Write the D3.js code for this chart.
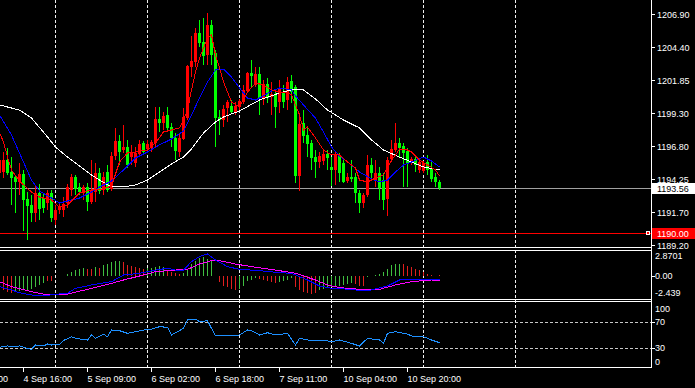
<!DOCTYPE html>
<html>
<head>
<meta charset="utf-8">
<script src="https://cdn.jsdelivr.net/npm/d3@7"></script>
<style>
html, body { margin: 0; padding: 0; background: #000; }
svg { display: block; }
text { font-family: "Liberation Sans", Arial, sans-serif; font-size: 9px; fill: #fff; }
path, line, rect { shape-rendering: crispEdges; }
</style>
</head>
<body>
<svg id="chart" width="695" height="388"></svg>
<script>
// H1 candles, oldest first
var opens = [1194.72,1194.80,1195.71,1194.80,1194.41,1194.03,1194.64,1192.73,1192.27,1191.65,
 1193.19,1192.80,1192.42,1193.19,1191.12,1191.88,1191.88,1192.42,1193.42,1194.41,
 1193.65,1193.19,1193.65,1192.50,1193.26,1194.72,1193.42,1194.80,1193.49,1196.02,
 1197.17,1196.48,1196.71,1195.94,1195.48,1196.17,1197.02,1196.56,1196.64,1197.02,
 1198.86,1198.55,1199.16,1198.24,1197.40,1196.33,1197.32,1198.93,1202.84,1203.22,
 1205.44,1204.75,1203.76,1206.06,1203.91,1199.01,1198.78,1199.70,1199.85,1199.39,
 1199.77,1200.16,1201.00,1202.38,1201.46,1202.30,1200.46,1201.54,1200.54,1200.77,
 1200.16,1200.92,1200.31,1201.77,1201.31,1194.49,1198.55,1197.63,1197.02,1195.94,
 1195.56,1195.64,1196.17,1195.18,1194.95,1196.10,1195.48,1194.10,1194.41,1194.41,
 1193.19,1192.42,1193.03,1195.33,1194.18,1194.72,1194.18,1192.73,1195.79,1196.48,
 1197.02,1196.79,1196.41,1195.48,1195.79,1194.95,1194.87,1195.56,1195.10,1194.41,
 1194.03];
var highs = [1196.10,1196.33,1196.64,1195.94,1194.57,1195.48,1194.95,1193.26,1193.03,1193.80,
 1193.87,1193.19,1193.42,1193.42,1192.27,1192.50,1192.88,1193.87,1194.64,1194.57,
 1193.95,1193.80,1193.95,1195.71,1195.48,1195.10,1194.80,1195.33,1196.33,1198.17,
 1197.63,1198.40,1197.25,1196.87,1196.71,1197.25,1197.17,1197.25,1197.25,1199.77,
 1199.77,1199.39,1199.77,1198.55,1197.78,1197.78,1199.70,1202.99,1205.21,1205.83,
 1206.44,1206.59,1206.97,1206.44,1204.14,1199.54,1199.93,1200.31,1200.31,1200.16,
 1200.39,1201.46,1202.45,1203.37,1202.84,1202.84,1201.84,1201.99,1201.69,1201.08,
 1201.84,1201.46,1202.07,1202.23,1201.46,1199.31,1199.54,1198.17,1197.25,1196.48,
 1196.33,1196.48,1196.48,1195.94,1196.33,1196.25,1195.71,1194.72,1195.71,1194.72,
 1193.42,1193.19,1196.10,1195.87,1195.71,1195.18,1194.72,1195.94,1197.25,1198.55,
 1197.40,1197.02,1196.64,1195.94,1195.94,1195.87,1195.64,1196.10,1195.71,1194.72,
 1194.18];
var lows = [1194.41,1194.33,1194.57,1192.27,1191.65,1193.03,1190.28,1189.59,1190.96,1190.96,
 1191.12,1191.65,1191.88,1190.96,1190.73,1191.57,1191.34,1192.04,1192.96,1193.03,
 1193.03,1192.65,1191.81,1192.34,1192.50,1193.11,1193.03,1193.26,1193.34,1195.71,
 1195.33,1196.25,1195.10,1195.33,1195.18,1195.94,1196.10,1196.25,1196.33,1196.71,
 1197.86,1198.01,1197.86,1196.71,1195.71,1195.94,1197.25,1198.78,1202.07,1202.84,
 1204.37,1202.99,1202.99,1202.99,1196.71,1197.63,1198.24,1198.63,1199.31,1199.16,
 1199.54,1200.00,1200.92,1201.31,1201.31,1199.16,1199.93,1200.08,1199.16,1198.17,
 1199.31,1199.70,1199.54,1200.08,1193.95,1193.34,1197.02,1195.94,1194.95,1194.33,
 1195.10,1195.33,1194.95,1193.72,1193.80,1194.03,1193.95,1193.95,1194.03,1192.42,
 1191.65,1192.04,1192.88,1194.33,1193.65,1192.65,1191.88,1191.42,1195.56,1196.33,
 1195.94,1193.65,1193.65,1195.33,1194.80,1194.72,1194.72,1194.57,1194.03,1193.65,
 1193.42];
var closes = [1195.71,1195.71,1194.72,1194.33,1194.03,1194.64,1192.65,1192.19,1191.65,1193.19,
 1191.96,1192.04,1193.19,1191.27,1191.88,1192.19,1192.34,1193.65,1194.41,1193.49,
 1193.26,1193.65,1192.50,1193.42,1194.72,1193.34,1194.41,1193.42,1196.02,1197.17,
 1196.33,1196.71,1195.33,1196.25,1196.25,1196.94,1196.33,1196.94,1197.10,1198.86,
 1198.55,1199.09,1198.17,1197.40,1196.41,1197.40,1199.01,1202.91,1203.30,1205.44,
 1204.68,1203.68,1206.06,1203.76,1198.93,1198.78,1199.62,1200.16,1199.39,1199.85,
 1200.23,1201.08,1202.38,1202.15,1202.30,1200.46,1201.54,1200.46,1200.77,1199.77,
 1201.23,1200.16,1201.69,1200.92,1194.49,1198.47,1197.55,1196.94,1195.87,1195.56,
 1196.02,1196.17,1195.87,1194.95,1196.10,1194.72,1194.03,1194.41,1194.26,1193.19,
 1192.42,1193.03,1195.33,1194.72,1194.72,1193.57,1192.65,1195.71,1196.56,1197.02,
 1196.64,1196.25,1195.48,1195.79,1195.33,1195.56,1195.48,1194.95,1194.26,1194.03,
 1193.56];

// moving averages: [bar, price]
var redMA = [[0,1197.78],[1,1197.10],[2,1195.94],[3,1194.95],[5,1194.10],[8,1193.26],[10,1192.88],[13,1192.65],[15,1192.11],[17,1192.27],[20,1193.19],[23,1193.42],[25,1193.42],[28,1193.72],[30,1195.56],[32,1196.25],[34,1196.33],[37,1196.48],[39,1197.02],[41,1197.86],[43,1198.01],[45,1198.17],[46,1198.78],[47,1199.54],[48,1201.08],[49,1202.45],[50,1203.53],[51,1204.29],[52,1205.06],[53,1205.29],[54,1203.76],[55,1202.76],[56,1201.69],[58,1200.16],[60,1199.77],[62,1200.92],[64,1201.61],[66,1201.46],[68,1201.08],[70,1200.92],[72,1200.92],[73,1200.69],[74,1199.93],[75,1199.16],[76,1198.01],[77,1198.24],[79,1197.40],[81,1196.48],[83,1196.10],[85,1196.10],[87,1195.56],[89,1195.10],[90,1194.18],[92,1194.03],[94,1194.33],[96,1194.57],[97,1195.10],[98,1195.71],[99,1196.10],[100,1196.56],[102,1196.48],[103,1196.33],[105,1195.71],[107,1195.33],[109,1194.95],[110,1194.49]];
var blueMA = [[0,1199.16],[3,1197.63],[5,1196.25],[8,1194.18],[10,1193.34],[13,1192.80],[15,1192.42],[18,1192.65],[20,1192.80],[23,1193.26],[25,1193.65],[28,1194.10],[31,1194.95],[34,1195.87],[37,1196.33],[40,1196.87],[43,1197.32],[46,1197.94],[48,1199.16],[50,1200.46],[52,1201.69],[54,1202.61],[56,1202.68],[58,1202.07],[60,1201.23],[62,1200.46],[64,1200.31],[66,1200.62],[68,1201.00],[70,1201.23],[73,1201.08],[74,1200.62],[76,1199.93],[79,1198.93],[81,1197.86],[83,1196.71],[85,1196.02],[88,1195.33],[90,1194.80],[93,1194.26],[95,1194.03],[97,1194.18],[99,1194.80],[101,1195.33],[103,1195.56],[106,1195.94],[108,1195.64],[110,1195.18]];
var whiteMA = [[0,1199.93],[5,1199.54],[8,1198.93],[12,1197.48],[14,1196.71],[17,1195.94],[20,1195.25],[23,1194.57],[25,1194.18],[28,1193.65],[31,1193.65],[34,1193.80],[37,1194.18],[40,1194.80],[43,1195.41],[46,1195.94],[48,1196.56],[51,1197.78],[54,1198.63],[56,1199.01],[60,1199.47],[65,1200.31],[70,1200.85],[74,1201.15],[76,1201.08],[79,1200.39],[82,1199.54],[86,1198.78],[90,1198.17],[93,1197.25],[96,1196.48],[100,1195.94],[103,1195.56],[106,1195.18],[110,1194.95]];

// MACD window
var macdHist = [-1.3,-1.5,-1.7,-1.8,-1.7,-1.6,-1.5,-1.45,-1.35,-1.15,
 -0.95,-0.7,-0.45,-0.45,0.05,0.05,0.1,0.3,0.5,0.65,
 0.85,0.95,0.85,0.85,1.0,0.95,1.2,1.35,1.55,1.7,
 1.65,1.55,1.2,1.1,1.0,0.95,0.85,0.95,0.95,1.0,
 1.1,1.0,0.65,0.45,0.4,0.3,0.35,0.7,1.35,1.7,
 2.0,2.1,1.9,1.7,0.1,-0.6,-1.0,-1.15,-1.35,-1.5,
 -1.35,-1.0,-0.5,-0.35,-0.15,-0.25,-0.35,-0.5,-0.6,-0.7,
 -0.6,-0.5,-0.35,-0.15,-1.15,-1.5,-1.7,-1.8,-1.9,-1.8,
 -1.5,-1.35,-1.15,-1.1,-1.0,-1.0,-0.9,-0.8,-0.7,-0.85,
 -1.0,-1.0,-0.05,0.05,0.15,0.3,0.5,0.85,1.2,1.3,
 1.4,1.3,1.1,1.0,0.85,0.7,0.45,0.3,0.2,0.1,
 0.2];
// 1 = green bar, 0 = red bar
var histRising = ("0000" + "11111111" + "00" + "11111111" + "00" + "1" + "0" + "11111" + "000000" +
 "11111" + "0000" + "11111111" + "000000" + "11111" + "00000" + "1111" + "000000" +
 "111111111" + "000" + "111111111" + "0000000000").split("").map(Number);
var macdMain = [[0,-1.10],[3,-1.46],[5,-1.76],[8,-2.00],[11,-2.11],[14,-1.93],[17,-1.82],[19,-1.28],[23,-0.92],[28,-0.56],[31,0.16],[35,0.35],[39,0.70],[42,0.89],[44,0.70],[46,0.70],[48,1.60],[50,2.15],[52,2.44],[54,1.79],[57,1.06],[60,0.78],[65,0.63],[70,0.41],[73,0.35],[77,-0.38],[80,-1.03],[83,-1.28],[88,-1.39],[91,-1.57],[93,-1.46],[97,-1.03],[100,-0.38],[103,-0.30],[107,-0.30],[110,-0.38]];
var macdSignal = [[0,-0.56],[3,-1.10],[8,-1.65],[11,-1.90],[17,-1.90],[22,-1.39],[28,-0.74],[31,-0.38],[35,0.05],[39,0.52],[44,0.70],[47,0.78],[50,1.35],[53,1.71],[55,1.71],[59,1.35],[64,1.00],[69,0.70],[74,0.35],[79,-0.38],[82,-0.92],[85,-1.21],[90,-1.39],[95,-1.39],[99,-0.92],[103,-0.56],[108,-0.38],[110,-0.45]];

// RSI window
var rsiLine = [[0,31.1],[2,33.1],[3,32.0],[5,33.1],[7,29.5],[8,28.0],[9,34.6],[11,33.1],[12,36.2],[13,34.6],[15,35.7],[16,41.5],[18,47.4],[19,44.9],[22,42.3],[23,50.0],[24,44.9],[26,51.1],[27,47.4],[28,57.7],[30,56.6],[32,52.6],[34,55.1],[37,58.8],[38,58.8],[40,62.8],[42,61.8],[43,50.0],[46,60.3],[47,73.1],[49,74.2],[50,70.5],[52,72.0],[54,48.5],[57,48.5],[60,50.0],[62,57.7],[63,56.6],[65,50.0],[67,53.5],[69,50.0],[72,52.6],[74,34.6],[75,44.9],[78,41.2],[81,42.3],[83,39.7],[85,42.3],[88,37.2],[90,33.1],[92,44.9],[95,42.3],[96,37.2],[97,52.6],[99,55.1],[102,51.5],[103,48.5],[106,47.4],[108,42.3],[110,38.2]];
var rsiLevels = [70, 30];

// axes
var priceTicks = [1206.90, 1204.40, 1201.85, 1199.30, 1196.80, 1194.25, 1191.70, 1189.20];
var macdLabels = ["2.8701", "0.00", "-2.439"];
var rsiLabels = ["100", "70", "30", "0"];
var timeBars = [-10, 6, 22, 38, 54, 70, 86, 102];
var timeLabels = ["4 Sep 00:00", "4 Sep 16:00", "5 Sep 09:00", "6 Sep 02:00", "6 Sep 18:00", "7 Sep 11:00", "10 Sep 04:00", "10 Sep 20:00"];
var gridBars = [14, 37, 60, 83, 106, 129];
var bidPrice = 1193.56;
var alertPrice = 1190.10;
var alertLabel = "1190.00";

var width = 695, height = 388, plotRight = 651;
var upColor = "#ff0000", downColor = "#00ff00";

var svg = d3.select("#chart");
svg.append("rect").attr("width", width).attr("height", height).attr("fill", "#000");

var xScale = d3.scaleLinear().domain([0, 110]).range([-1, 439]);
var yMain = d3.scaleLinear().domain([1189.05, 1207.97]).range([247, 0]);
var yMacd = d3.scaleLinear().domain([-2.439, 2.8701]).range([299, 250]);
var yRsi = d3.scaleLinear().domain([0, 100]).range([367.5, 302.5]);

var defs = svg.append("defs");
function addClip(id, y0, y1) {
    defs.append("clipPath").attr("id", id).append("rect")
        .attr("x", 0).attr("y", y0).attr("width", plotRight).attr("height", y1 - y0);
}
addClip("clipMain", 0, 247);
addClip("clipMacd", 251, 299);
addClip("clipRsi", 302, 367);

// vertical dashed grid
svg.append("g").selectAll("line").data(gridBars).enter().append("line")
    .attr("x1", function(d) { return Math.round(xScale(d)) + 0.5; })
    .attr("x2", function(d) { return Math.round(xScale(d)) + 0.5; })
    .attr("y1", 0).attr("y2", 367)
    .attr("stroke", "#f0f0f0").attr("stroke-dasharray", "3,2");

// main window
var main = svg.append("g").attr("clip-path", "url(#clipMain)");

main.append("line")
    .attr("x1", 0).attr("x2", plotRight)
    .attr("y1", Math.round(yMain(bidPrice)) + 0.5).attr("y2", Math.round(yMain(bidPrice)) + 0.5)
    .attr("stroke", "#a0a0a0");
main.append("line")
    .attr("x1", 0).attr("x2", plotRight)
    .attr("y1", Math.round(yMain(alertPrice)) + 0.5).attr("y2", Math.round(yMain(alertPrice)) + 0.5)
    .attr("stroke", "#ff0000");

var candles = closes.map(function(c, i) {
    return { i: i, o: opens[i], h: highs[i], l: lows[i], c: c };
});

main.selectAll(".wick").data(candles).enter().append("rect")
    .attr("class", "wick")
    .attr("x", function(d) { return Math.round(xScale(d.i)); })
    .attr("y", function(d) { return Math.round(yMain(d.h)); })
    .attr("width", 1)
    .attr("height", function(d) { return Math.max(1, Math.round(yMain(d.l)) - Math.round(yMain(d.h))); })
    .attr("fill", function(d) { return d.c > d.o ? upColor : downColor; });

main.selectAll(".body").data(candles).enter().append("rect")
    .attr("class", "body")
    .attr("x", function(d) { return Math.round(xScale(d.i)) - 1; })
    .attr("y", function(d) { return Math.round(yMain(Math.max(d.o, d.c))); })
    .attr("width", 3)
    .attr("height", function(d) {
        return Math.max(1, Math.round(yMain(Math.min(d.o, d.c))) - Math.round(yMain(Math.max(d.o, d.c))));
    })
    .attr("fill", function(d) { return d.c > d.o ? upColor : downColor; });

var maLine = d3.line()
    .x(function(d) { return xScale(d[0]) + 0.5; })
    .y(function(d) { return yMain(d[1]); });

[[whiteMA, "#ffffff"], [blueMA, "#0000ff"], [redMA, "#ff0000"]].forEach(function(m) {
    main.append("path").datum(m[0])
        .attr("d", maLine)
        .attr("fill", "none")
        .attr("stroke", m[1])
        .attr("stroke-width", 1);
});

// MACD window
var macd = svg.append("g").attr("clip-path", "url(#clipMacd)");
macd.selectAll(".hist").data(macdHist).enter().append("line")
    .attr("class", "hist")
    .attr("x1", function(d, i) { return Math.round(xScale(i)) + 0.5; })
    .attr("x2", function(d, i) { return Math.round(xScale(i)) + 0.5; })
    .attr("y1", yMacd(0))
    .attr("y2", function(d) { return yMacd(d); })
    .attr("stroke", function(d, i) { return histRising[i] ? "#3fbf3f" : "#e01e1e"; });

var macdPath = d3.line()
    .x(function(d) { return xScale(d[0]) + 0.5; })
    .y(function(d) { return yMacd(d[1]); });
macd.append("path").datum(macdSignal).attr("d", macdPath)
    .attr("fill", "none").attr("stroke", "#ff00ff");
macd.append("path").datum(macdMain).attr("d", macdPath)
    .attr("fill", "none").attr("stroke", "#0000ff");

// RSI window
var rsi = svg.append("g").attr("clip-path", "url(#clipRsi)");
rsi.selectAll(".level").data(rsiLevels).enter().append("line")
    .attr("x1", 0).attr("x2", plotRight)
    .attr("y1", function(d) { return Math.round(yRsi(d)) + 0.5; })
    .attr("y2", function(d) { return Math.round(yRsi(d)) + 0.5; })
    .attr("stroke", "#c8c8c8").attr("stroke-dasharray", "3,2");
rsi.append("path").datum(rsiLine)
    .attr("d", d3.line()
        .x(function(d) { return xScale(d[0]) + 0.5; })
        .y(function(d) { return yRsi(d[1]); }))
    .attr("fill", "none").attr("stroke", "#1e90ff");

// window frames
var frames = svg.append("g").attr("stroke", "#fff").attr("stroke-width", 1);
[247.5, 250.5, 299.5, 301.5, 367.5].forEach(function(y) {
    frames.append("line").attr("x1", 0).attr("x2", plotRight + 1).attr("y1", y).attr("y2", y);
});
frames.append("line").attr("x1", plotRight + 0.5).attr("x2", plotRight + 0.5).attr("y1", 0).attr("y2", 368);

// price axis
var axis = svg.append("g");
priceTicks.forEach(function(p) {
    var y = Math.round(yMain(p)) + 0.5;
    axis.append("line").attr("x1", plotRight + 1).attr("x2", plotRight + 4)
        .attr("y1", y).attr("y2", y).attr("stroke", "#fff");
    axis.append("text").attr("x", 657).attr("y", y + 3).text(p.toFixed(2));
});

function priceBox(p, label, bg, fg) {
    var y = Math.round(yMain(p));
    axis.append("rect").attr("x", plotRight + 1).attr("y", y - 5)
        .attr("width", width - plotRight - 1).attr("height", 11).attr("fill", bg);
    axis.append("text").attr("x", 657).attr("y", y + 3.5)
        .style("fill", fg).text(label);
}
priceBox(bidPrice, bidPrice.toFixed(2), "#ffffff", "#000000");
priceBox(alertPrice, alertLabel, "#ff0000", "#ffffff");
svg.append("rect")
    .attr("x", plotRight - 4.5).attr("y", Math.round(yMain(alertPrice)) - 1.5)
    .attr("width", 3).attr("height", 3)
    .attr("fill", "#ff0000").attr("stroke", "#fff");

// MACD / RSI axis labels
var macdY = [259, yMacd(0) + 3, 295.5];
macdLabels.forEach(function(t, i) {
    axis.append("text").attr("x", 655).attr("y", macdY[i]).text(t);
});
axis.append("line").attr("x1", plotRight + 1).attr("x2", plotRight + 4)
    .attr("y1", Math.round(yMacd(0)) + 0.5).attr("y2", Math.round(yMacd(0)) + 0.5).attr("stroke", "#fff");

var rsiY = [311.5, yRsi(70) + 3, yRsi(30) + 3, 364.5];
rsiLabels.forEach(function(t, i) {
    axis.append("text").attr("x", 655).attr("y", rsiY[i]).text(t);
});
rsiLevels.forEach(function(v) {
    axis.append("line").attr("x1", plotRight + 1).attr("x2", plotRight + 4)
        .attr("y1", Math.round(yRsi(v)) + 0.5).attr("y2", Math.round(yRsi(v)) + 0.5).attr("stroke", "#fff");
});

// time axis
timeBars.forEach(function(b, i) {
    var x = Math.round(xScale(b)) + 0.5;
    axis.append("line").attr("x1", x).attr("x2", x).attr("y1", 368).attr("y2", 372).attr("stroke", "#fff");
    axis.append("text").attr("x", x).attr("y", 382).text(timeLabels[i]);
});
</script>
</body>
</html>
